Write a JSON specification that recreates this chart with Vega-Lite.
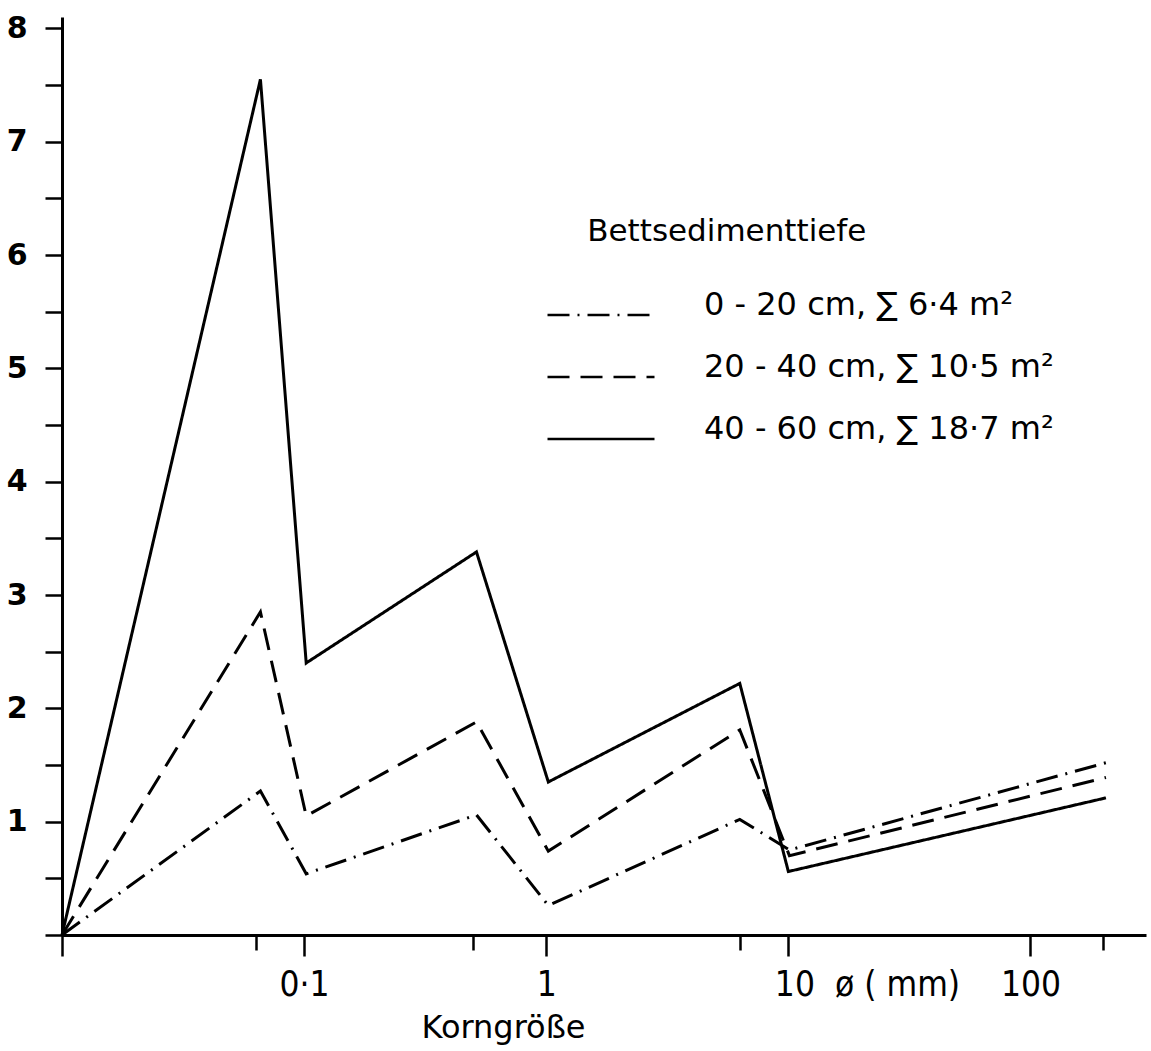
{
  "$schema": "https://vega.github.io/schema/vega-lite/v6.json",
  "width": 1084,
  "height": 918,
  "autosize": "none",
  "padding": {"left": 62, "top": 17, "right": 5, "bottom": 116},
  "background": "white",
  "config": {
    "view": {"stroke": null},
    "axis": {"grid": false, "domainColor": "black", "tickColor": "black", "labelColor": "black", "titleColor": "black"}
  },
  "datasets": {
    "lines": [
      {"d": 0.01, "v": 0, "series": "0 - 20 cm,  ∑ 6·4 m²"},
      {"d": 0.066, "v": 1.27, "series": "0 - 20 cm,  ∑ 6·4 m²"},
      {"d": 0.102, "v": 0.54, "series": "0 - 20 cm,  ∑ 6·4 m²"},
      {"d": 0.515, "v": 1.06, "series": "0 - 20 cm,  ∑ 6·4 m²"},
      {"d": 1.02, "v": 0.26, "series": "0 - 20 cm,  ∑ 6·4 m²"},
      {"d": 6.3, "v": 1.02, "series": "0 - 20 cm,  ∑ 6·4 m²"},
      {"d": 10.1, "v": 0.75, "series": "0 - 20 cm,  ∑ 6·4 m²"},
      {"d": 205, "v": 1.52, "series": "0 - 20 cm,  ∑ 6·4 m²"},
      {"d": 0.01, "v": 0, "series": "20 - 40 cm,  ∑ 10·5 m²"},
      {"d": 0.066, "v": 2.85, "series": "20 - 40 cm,  ∑ 10·5 m²"},
      {"d": 0.102, "v": 1.05, "series": "20 - 40 cm,  ∑ 10·5 m²"},
      {"d": 0.515, "v": 1.88, "series": "20 - 40 cm,  ∑ 10·5 m²"},
      {"d": 1.02, "v": 0.74, "series": "20 - 40 cm,  ∑ 10·5 m²"},
      {"d": 6.3, "v": 1.81, "series": "20 - 40 cm,  ∑ 10·5 m²"},
      {"d": 10.1, "v": 0.70, "series": "20 - 40 cm,  ∑ 10·5 m²"},
      {"d": 205, "v": 1.39, "series": "20 - 40 cm,  ∑ 10·5 m²"},
      {"d": 0.01, "v": 0, "series": "40 - 60 cm,  ∑ 18·7 m²"},
      {"d": 0.066, "v": 7.55, "series": "40 - 60 cm,  ∑ 18·7 m²"},
      {"d": 0.102, "v": 2.40, "series": "40 - 60 cm,  ∑ 18·7 m²"},
      {"d": 0.515, "v": 3.38, "series": "40 - 60 cm,  ∑ 18·7 m²"},
      {"d": 1.02, "v": 1.35, "series": "40 - 60 cm,  ∑ 18·7 m²"},
      {"d": 6.3, "v": 2.22, "series": "40 - 60 cm,  ∑ 18·7 m²"},
      {"d": 10.0, "v": 0.56, "series": "40 - 60 cm,  ∑ 18·7 m²"},
      {"d": 205, "v": 1.21, "series": "40 - 60 cm,  ∑ 18·7 m²"}
    ],
    "legendTitle": [
      {"d": 1.477, "v": 6.12, "text": "Bettsedimenttiefe"}
    ]
  },
  "layer": [
    {
      "data": {"name": "lines"},
      "mark": {"type": "line", "color": "black", "strokeWidth": 3},
      "encoding": {
        "x": {
          "field": "d", "type": "quantitative",
          "scale": {"type": "log", "domain": [0.01, 300], "nice": false},
          "axis": {
            "values": [0.01, 0.063, 0.1, 0.5, 1, 6.3, 10, 100, 200],
            "labelExpr": "datum.value == 0.1 ? '0·1' : datum.value == 1 ? '1' : datum.value == 10 ? '10\u00a0\u00a0ø\u00a0( mm)' : datum.value == 100 ? '100' : ''",
            "labelAlign": {"condition": {"test": "datum.value == 10", "value": "left"}, "value": "center"},
            "labelOffset": {"condition": {"test": "datum.value == 10", "value": -14}, "value": 0},
            "tickSize": {"condition": {"test": "datum.value == 0.01 || datum.value == 0.1 || datum.value == 1 || datum.value == 10 || datum.value == 100", "value": 21}, "value": 15},
            "tickWidth": 2.5,
            "domainWidth": 3,
            "labelFont": "DejaVu Sans Condensed, Liberation Sans Narrow, DejaVu Sans",
            "labelFontSize": 35,
            "labelBaseline": "alphabetic",
            "labelPadding": 39,
            "labelLimit": 400,
            "labelOverlap": false,
            "labelFlush": false,
            "title": "Korngröße",
            "titleFont": "DejaVu Sans",
            "titleFontSize": 32,
            "titleFontWeight": "normal",
            "titleX": 441,
            "titleY": 102,
            "titleAlign": "center",
            "titleBaseline": "alphabetic"
          }
        },
        "y": {
          "field": "v", "type": "quantitative",
          "scale": {"domain": [0, 8.1], "nice": false},
          "axis": {
            "values": [0, 0.5, 1, 1.5, 2, 2.5, 3, 3.5, 4, 4.5, 5, 5.5, 6, 6.5, 7, 7.5, 8],
            "labelExpr": "datum.value > 0 && datum.value % 1 == 0 ? '' + datum.value : ''",
            "tickSize": 17,
            "tickWidth": 2.5,
            "domainWidth": 3,
            "labelFont": "DejaVu Sans",
            "labelFontWeight": "bold",
            "labelFontSize": 30,
            "labelPadding": 18,
            "labelOverlap": false,
            "labelFlush": false,
            "title": null
          }
        },
        "strokeDash": {
          "field": "series", "type": "nominal",
          "scale": {
            "domain": ["0 - 20 cm,  ∑ 6·4 m²", "20 - 40 cm,  ∑ 10·5 m²", "40 - 60 cm,  ∑ 18·7 m²"],
            "range": [[22, 8, 2, 8], [22, 11], [1, 0]]
          },
          "legend": {
            "title": null,
            "orient": "none",
            "legendX": 484,
            "legendY": 278,
            "padding": 0,
            "symbolType": "stroke",
            "symbolSize": 11449,
            "symbolStrokeWidth": 2.5,
            "symbolStrokeColor": "black",
            "clipHeight": 40,
            "rowPadding": 16,
            "labelOffset": 48,
            "labelFont": "DejaVu Sans",
            "labelFontSize": 32,
            "labelBaseline": "alphabetic",
            "labelColor": "black",
            "labelLimit": 800
          }
        }
      }
    },
    {
      "data": {"name": "legendTitle"},
      "mark": {"type": "text", "align": "left", "baseline": "alphabetic", "font": "DejaVu Sans", "fontSize": 31, "color": "black"},
      "encoding": {
        "x": {"field": "d", "type": "quantitative"},
        "y": {"field": "v", "type": "quantitative"},
        "text": {"field": "text"}
      }
    }
  ]
}
